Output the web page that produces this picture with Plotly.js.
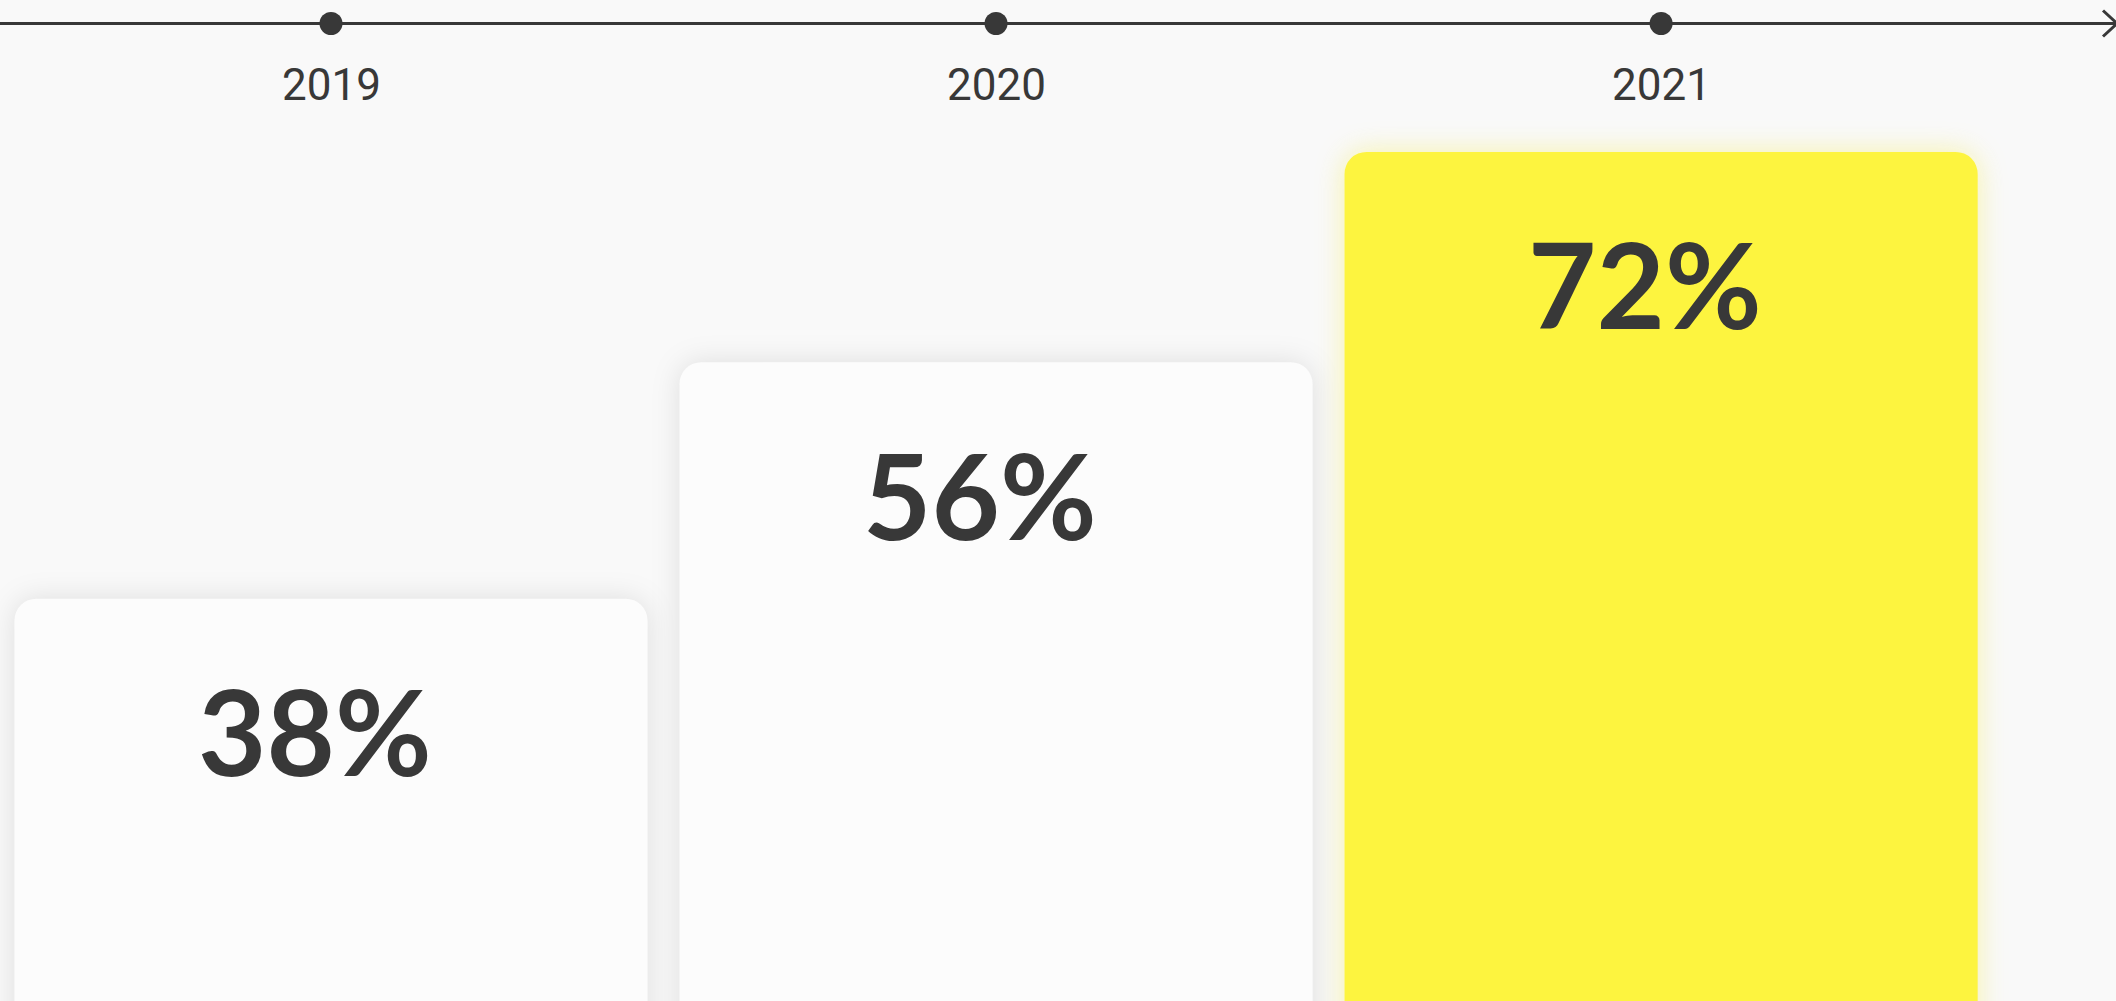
<!DOCTYPE html>
<html>
<head>
<meta charset="utf-8">
<script src="https://cdn.plot.ly/plotly-3.0.1.min.js"></script>
<style>
  html, body { margin: 0; padding: 0; background: #f9f9f9; }
  #chart { width: 2116px; height: 1001px; }
</style>
</head>
<body>
<div id="chart"></div>
<script>
// ---- data ----
const categories = ['2019', '2020', '2021'];
const shares = [38, 56, 72];
const shareLabels = shares.map(v => v + '%');
const barColors = ['#fcfcfc', '#fcfcfc', '#fdf43f'];

// ---- styling constants ----
const W = 2116, H = 1001;
const TIMELINE_Y = 1 - 23.5 / H;     // paper / y2 fraction of the timeline
const YEAR_LABEL_Y = 1 - 85 / H;
const INK = '#383838';
const BG = '#f9f9f9';

const barTrace = {
  type: 'bar',
  x: categories,
  y: shares,
  marker: { color: barColors, cornerradius: 22, line: { width: 0 } },
  hoverinfo: 'skip',
  showlegend: false
};

const dotTrace = {
  type: 'scatter',
  mode: 'markers',
  x: categories,
  y: categories.map(() => TIMELINE_Y),
  yaxis: 'y2',
  marker: { size: 23, color: INK },
  cliponaxis: false,
  hoverinfo: 'skip',
  showlegend: false
};

const annotations = [];
categories.forEach((c, i) => {
  // category axes: position by serial index of the category
  annotations.push({
    x: i, y: shares[i], xref: 'x', yref: 'y',
    text: shareLabels[i], showarrow: false,
    xanchor: 'center', yanchor: 'middle', yshift: -132, xshift: -16,
    font: { family: 'Lato, "DejaVu Sans", sans-serif', size: 118, color: INK, weight: 700 }
  });
  annotations.push({
    x: i, y: YEAR_LABEL_Y, xref: 'x', yref: 'paper',
    text: c, showarrow: false,
    xanchor: 'center', yanchor: 'middle',
    font: { family: 'Roboto, "Liberation Sans", sans-serif', size: 44, color: INK }
  });
});

const tipX = 1 + 1 / W;
const armX = 1 - 13 / W;
const armDy = 13 / H;

const layout = {
  width: W, height: H,
  margin: { l: 0, r: 0, t: 0, b: 0, pad: 0 },
  paper_bgcolor: BG,
  plot_bgcolor: BG,
  bargap: 0.048,
  hovermode: false,
  xaxis: {
    type: 'category', range: [-0.4977, 2.684],
    showgrid: false, zeroline: false, showticklabels: false, ticks: '', showline: false
  },
  yaxis: {
    range: [7.38, 83.56],
    showgrid: false, zeroline: false, showticklabels: false, ticks: '', showline: false
  },
  yaxis2: {
    overlaying: 'y', range: [0, 1],
    showgrid: false, zeroline: false, showticklabels: false, ticks: '', showline: false
  },
  shapes: [
    {
      type: 'line', xref: 'paper', yref: 'paper', layer: 'below',
      x0: 0, x1: 1, y0: TIMELINE_Y, y1: TIMELINE_Y,
      line: { color: INK, width: 3 }
    },
    {
      type: 'path', xref: 'paper', yref: 'paper', layer: 'above',
      path: `M ${armX} ${TIMELINE_Y + armDy} L ${tipX} ${TIMELINE_Y} L ${armX} ${TIMELINE_Y - armDy}`,
      line: { color: INK, width: 3 }
    }
  ],
  annotations: annotations
};

Plotly.newPlot('chart', [barTrace, dotTrace], layout, { displayModeBar: false, staticPlot: true }).then(gd => {
  const paths = gd.querySelectorAll('.barlayer .trace .points .point path');
  paths.forEach((p, i) => {
    const glow = barColors[i] === '#fdf43f'
      ? 'drop-shadow(0px 0px 14px rgba(245, 235, 70, 0.45))'
      : 'drop-shadow(0px 0px 14px rgba(0, 0, 0, 0.11))';
    p.style.filter = glow;
  });
});
</script>
</body>
</html>
